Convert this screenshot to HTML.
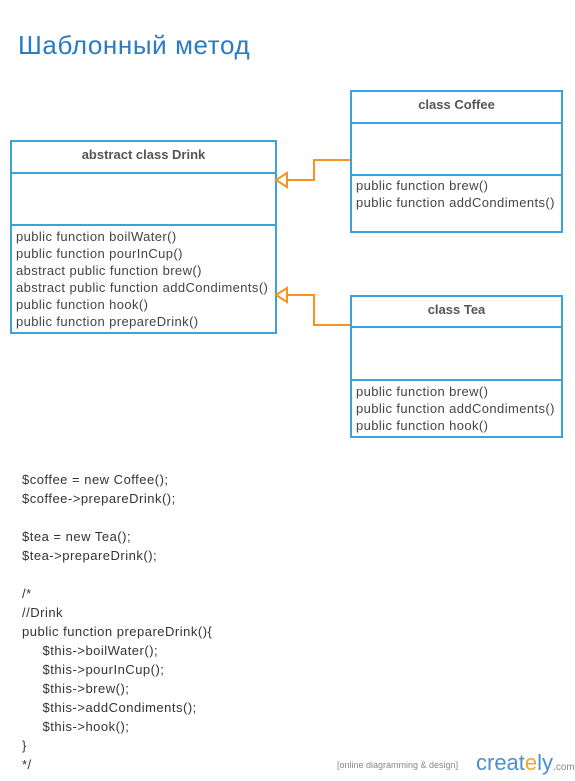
<!DOCTYPE html>
<html><head><meta charset="utf-8"><style>
body{margin:0;width:575px;height:781px;background:#fff;position:relative;font-family:"Liberation Sans",sans-serif;color:#444;overflow:hidden}
.t{position:absolute;left:18px;top:30px;font-size:26px;letter-spacing:0.6px;color:#2b7bc4}
.box{position:absolute;border:2px solid #3aa3dc;box-sizing:border-box;background:#fff}
.h{position:absolute;left:0;right:0;text-align:center;font-size:13px;font-weight:bold;color:#555}
.d{position:absolute;left:0;right:0;border-top:2px solid #3aa3dc}
.m{position:absolute;left:4px;font-size:13px;letter-spacing:0.4px;line-height:17px;color:#444;white-space:pre}
.code{position:absolute;left:22px;top:470px;font-size:13px;letter-spacing:0.5px;line-height:19px;white-space:pre;color:#333}
</style></head><body>
<div class="t">Шаблонный метод</div>

<div class="box" style="left:10px;top:140px;width:267px;height:194px">
<div class="h" style="top:5px">abstract class Drink</div>
<div class="d" style="top:30px"></div>
<div class="d" style="top:82px"></div>
<div class="m" style="top:86px">public function boilWater()
public function pourInCup()
abstract public function brew()
abstract public function addCondiments()
public function hook()
public function prepareDrink()</div>
</div>

<div class="box" style="left:350px;top:90px;width:213px;height:143px">
<div class="h" style="top:5px">class Coffee</div>
<div class="d" style="top:30px"></div>
<div class="d" style="top:82px"></div>
<div class="m" style="top:85px">public function brew()
public function addCondiments()</div>
</div>

<div class="box" style="left:350px;top:295px;width:213px;height:143px">
<div class="h" style="top:5px">class Tea</div>
<div class="d" style="top:29px"></div>
<div class="d" style="top:82px"></div>
<div class="m" style="top:86px">public function brew()
public function addCondiments()
public function hook()</div>
</div>

<svg style="position:absolute;left:0;top:0" width="575" height="781">
<g fill="none" stroke="#f7931e" stroke-width="2">
<polyline points="350,160 314,160 314,180 287,180"/>
<polygon points="276,180 287,173 287,187" fill="#fff"/>
<polyline points="350,325 314,325 314,295 287,295"/>
<polygon points="276,295 287,288 287,302" fill="#fff"/>
</g>
</svg>

<div class="code">$coffee = new Coffee();
$coffee->prepareDrink();

$tea = new Tea();
$tea->prepareDrink();

/*
//Drink
public function prepareDrink(){
     $this->boilWater();
     $this->pourInCup();
     $this->brew();
     $this->addCondiments();
     $this->hook();
}
*/</div>

<div style="position:absolute;left:337px;top:760px;font-size:9px;color:#888">[online diagramming &amp; design]</div>
<div style="position:absolute;left:476px;top:750px;font-size:22px;color:#4a8fd0">creat<span style="color:#f5a623">e</span>ly<span style="font-size:10px;color:#888">.com</span></div>
</body></html>
